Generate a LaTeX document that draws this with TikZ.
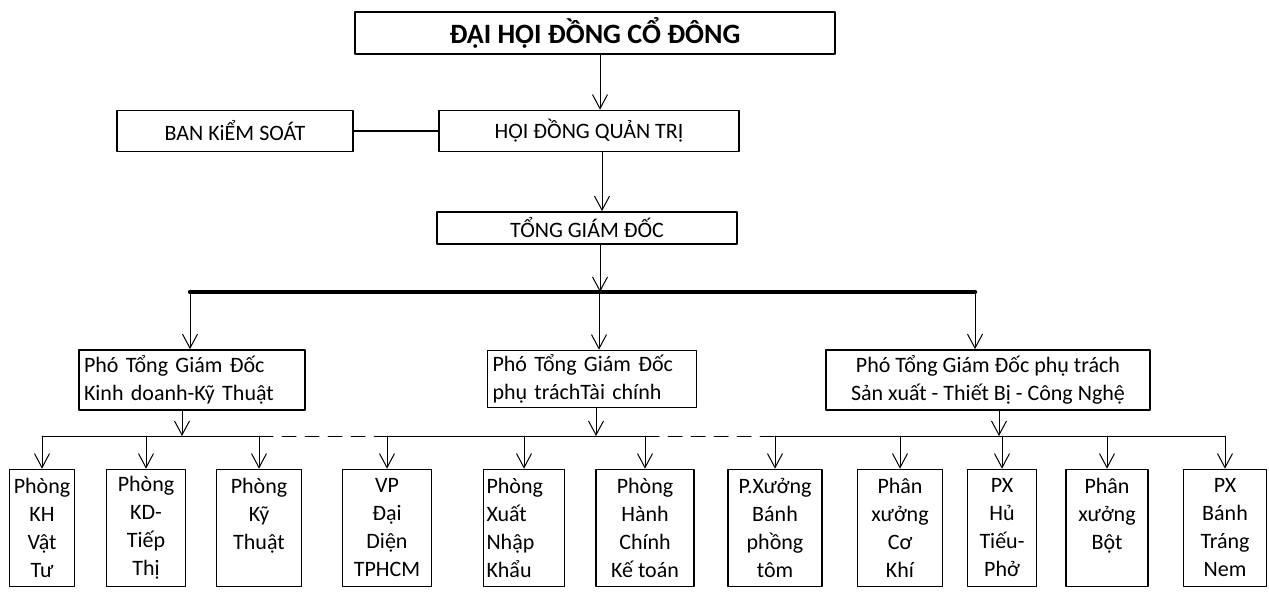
\documentclass[tikz,border=0pt]{standalone}
\usepackage{fontspec}
\setmainfont{Carlito}
\usetikzlibrary{arrows.meta}
\begin{document}
\begin{tikzpicture}[x=1pt, y=-1pt, line join=round, line cap=round,
	font=\fontsize{22}{28}\selectfont,
	box/.style={draw, line width=1.7pt, inner sep=0pt, align=center},
	unit/.style={box, minimum width=#1, minimum height=117pt},
	arr/.style={-{Straight Barb[length=14pt,width=15pt]}, line width=1pt}]
			\path[use as bounding box] (0,0) rectangle (1269,600);
			\node[box, font=\fontsize{28}{34}\selectfont\bfseries, minimum width=480pt, minimum height=42pt] (dhcd) at (595,33) {ĐẠI HỘI ĐỒNG CỔ ĐÔNG};
			\node[box, minimum width=236pt, minimum height=41pt] (bks) at (235,131) {BAN KiỂM SOÁT};
			\node[box, minimum width=300pt, minimum height=41pt] (hdqt) at (589,131) {HỘI ĐỒNG QUẢN TRỊ};
			\node[box, minimum width=300pt, minimum height=32pt] (tgd) at (587,228) {TỔNG GIÁM ĐỐC};
			\node[box, align=left, text width=216pt, inner xsep=5pt, minimum height=60pt] (p1) at (192,380) {Phó Tổng Giám Đốc\\Kinh doanh-Kỹ Thuật};
			\node[box, align=left, text width=199pt, inner xsep=5pt, minimum height=57pt] (p2) at (592,379) {Phó Tổng Giám Đốc\\phụ tráchTài chính};
			\node[box, minimum width=324pt, minimum height=60pt] (p3) at (988,380) {Phó Tổng Giám Đốc phụ trách\\Sản xuất - Thiết Bị - Công Nghệ};
			\node[unit=65pt] (c1) at (42,528) {Phòng\\KH\\Vật\\Tư};
			\node[unit=79pt] (c2) at (146,528) {Phòng\\KD-\\Tiếp\\Thị};
			\node[unit=85pt] (c3) at (259,528) {Phòng\\Kỹ\\Thuật\\~};
			\node[unit=89pt] (c4) at (387,528) {VP\\Đại\\Diện\\TPHCM};
			\node[unit=81pt, align=left, text width=75pt] (c5) at (524,528) {Phòng\\Xuất\\Nhập\\Khẩu};
			\node[unit=98pt] (c6) at (645,528) {Phòng\\Hành\\Chính\\Kế toán};
			\node[unit=94pt] (c7) at (775,528) {P.Xưởng\\Bánh\\phồng\\tôm};
			\node[unit=85pt] (c8) at (900,528) {Phân\\xưởng\\Cơ\\Khí};
			\node[unit=69pt] (c9) at (1002,528) {PX\\Hủ\\Tiếu-\\Phở};
			\node[unit=82pt] (c10) at (1107,528) {Phân\\xưởng\\Bột\\~};
			\node[unit=83pt] (c11) at (1225,528) {PX\\Bánh\\Tráng\\Nem};
			\coordinate (bus) at (0,292);
			\coordinate (sub) at (0,436);
			\draw[arr] ([xshift=5pt]dhcd.south) -- ([xshift=5pt]dhcd.south |- hdqt.north);
			\draw[line width=1.3pt] (bks) -- (hdqt);
			\draw[arr] ([xshift=13pt]hdqt.south) -- ([xshift=13pt]hdqt.south |- tgd.north);
			\draw[arr] ([xshift=13pt]tgd.south) -- ([xshift=13pt]tgd.south |- bus);
			\draw[line width=4.5pt] ([xshift=-2pt]p1.north |- bus) -- ([xshift=-13pt]p3.north |- bus);
			\draw[arr] ([xshift=-2pt]p1.north |- bus) -- ([xshift=-2pt]p1.north);
			\draw[arr] ([xshift=7pt]p2.north |- bus) -- ([xshift=7pt]p2.north);
			\draw[arr] ([xshift=-13pt]p3.north |- bus) -- ([xshift=-13pt]p3.north);
			\draw[line width=1pt] (c1.north |- sub) -- (c3.north |- sub) (c4.north |- sub) -- (c6.north |- sub) (c7.north |- sub) -- (c11.north |- sub);
			\draw[line width=1pt, dash pattern=on 14pt off 9pt] (c3.north |- sub) -- (c4.north |- sub) (c6.north |- sub) -- (c7.north |- sub);
			\draw[arr] ([xshift=-10pt]p1.south) -- ([xshift=-10pt]p1.south |- sub);
			\draw[arr] ([xshift=4pt]p2.south) -- ([xshift=4pt]p2.south |- sub);
			\draw[arr] ([xshift=11pt]p3.south) -- ([xshift=11pt]p3.south |- sub);
			\foreach \c in {c1,c2,c3,c4,c5,c6,c7,c8,c9,c10,c11}
			\draw[arr] (\c.north |- sub) -- (\c.north);
		\end{tikzpicture}
\end{document}
